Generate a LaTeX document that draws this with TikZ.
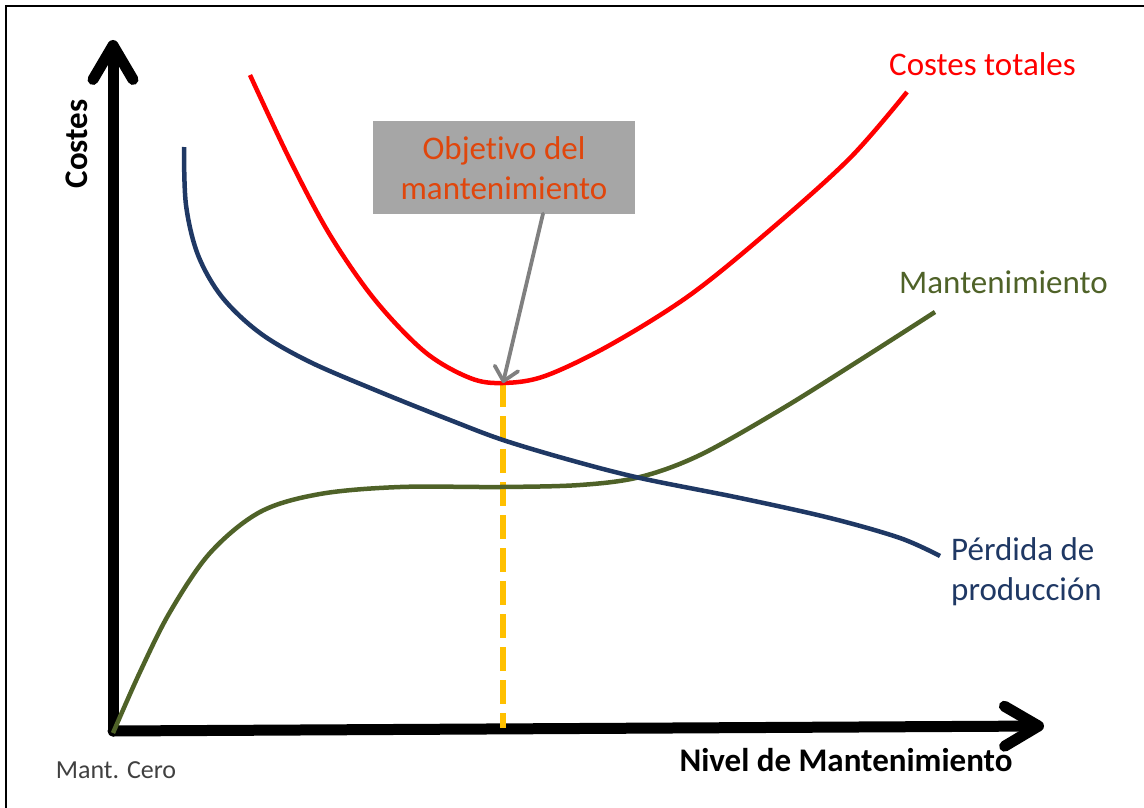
\documentclass[tikz,border=0pt]{standalone}
\usepackage{fontspec}
\setmainfont{Carlito}[Ligatures=NoCommon]
\usetikzlibrary{arrows.meta}
\definecolor{costred}{RGB}{255,0,0}
\definecolor{lossblue}{RGB}{31,56,100}
\definecolor{maintgreen}{RGB}{79,98,40}
\definecolor{goalorange}{RGB}{255,192,0}
\definecolor{boxgray}{RGB}{166,166,166}
\definecolor{boxtext}{RGB}{224,70,12}
\definecolor{pointergray}{RGB}{128,128,128}
\definecolor{notegray}{RGB}{64,64,64}
\tikzset{
  axis/.style={line width=11pt, line cap=round,
    -{Straight Barb[length=34pt,width=40pt,round]}},
  curve/.style={line width=4.5pt, smooth, tension=0.55},
  lbl/.style={inner sep=0pt, font=\fontsize{33}{40}\selectfont},
  axislbl/.style={inner sep=0pt, font=\fontsize{33}{40}\selectfont\bfseries},
}
\begin{document}
\begin{tikzpicture}[x=1pt,y=-1pt]
  \useasboundingbox (0,0) rectangle (1144,808);
  % frame (top and left edges)
  \draw[line width=2pt] (1144,6) -- (6,6) -- (6,808);

  % axes
  \coordinate (O) at (113,731);
  \coordinate (ytip) at (113,40);
  \coordinate (xtip) at (1044,726);
  \draw[axis] (O) -- (ytip);
  \draw[axis] (O) -- (xtip);
  \node[axislbl, rotate=90] (ylabel) at (77,144) {Costes};
  \node[axislbl] (xlabel) at (846,760) {Nivel de Mantenimiento};
  \node[inner sep=0pt, text=notegray, font=\fontsize{26}{31}\selectfont] (zero) at (116,770) {Mant. Cero};

  % optimum marker
  \coordinate (opt) at (503,383);
  \coordinate (optfoot) at (503,728);
  \draw[goalorange, line width=6pt, dash pattern=on 24pt off 9pt] (opt) -- (optfoot);

  % maintenance cost
  \draw[maintgreen, curve] plot coordinates {
    (113,733) (140,672) (170,612) (210,553) (260,512) (320,494)
    (400,487) (500,487) (580,485) (640,477) (700,455) (780,410)
    (860,360) (935,312)};
  % production loss
  \draw[lossblue, curve] plot coordinates {
    (184,147) (186,205) (198,255) (222,297) (260,333) (310,362)
    (380,392) (450,420) (503,440) (570,460) (640,478) (740,498)
    (830,518) (900,538) (940,556)};
  % total cost
  \draw[costred, curve] plot coordinates {
    (250,75) (290,160) (330,235) (375,300) (425,352) (470,378)
    (503,383) (545,376) (610,345) (690,295) (770,230) (850,158)
    (907,92)};

  % curve labels
  \node[lbl, text=costred, anchor=west] (ctot) at (889,64) {Costes totales};
  \node[lbl, text=maintgreen, anchor=west] (cman) at (899,282) {Mantenimiento};
  \node[lbl, text=lossblue, anchor=north west, align=left] (closs) at (951,537)
    {Pérdida de\\producción};

  % goal box and pointer
  \node[fill=boxgray, minimum width=262pt, minimum height=93pt, inner sep=0pt]
    (goal) at (504,167) {};
  \node[text=boxtext, align=center, inner sep=0pt, font=\fontsize{33}{40}\selectfont]
    (goaltext) at (504,168) {Objetivo del\\mantenimiento};
  \draw[pointergray, line width=3.8pt, line cap=round,
        -{Straight Barb[length=13pt,width=24pt,round]}]
    ([xshift=39pt]goal.south) -- (opt);
\end{tikzpicture}
\end{document}
